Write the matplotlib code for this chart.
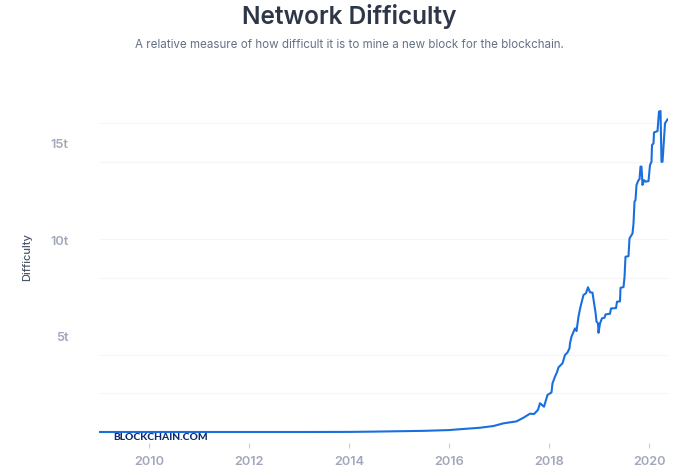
import matplotlib
matplotlib.use("Agg")
import matplotlib.pyplot as plt
from matplotlib.transforms import ScaledTranslation

years = [2009.0, 2010.0, 2011.0, 2012.0, 2013.0, 2014.0, 2014.5, 2015.0, 2015.5, 2016.0, 2016.3,
         2016.62, 2016.89, 2017.09, 2017.35, 2017.49, 2017.62, 2017.70, 2017.78, 2017.82, 2017.90,
         2017.97, 2018.02, 2018.05, 2018.07, 2018.12, 2018.16, 2018.19, 2018.27, 2018.32, 2018.37,
         2018.41, 2018.42, 2018.45, 2018.52, 2018.55, 2018.59, 2018.63, 2018.69, 2018.74, 2018.78,
         2018.82, 2018.87, 2018.90, 2018.93, 2018.95, 2018.98, 2018.99, 2019.02, 2019.06, 2019.11,
         2019.13, 2019.22, 2019.24, 2019.34, 2019.36, 2019.42, 2019.43, 2019.49, 2019.51, 2019.53,
         2019.59, 2019.61, 2019.65, 2019.67, 2019.69, 2019.71, 2019.73, 2019.75, 2019.79, 2019.81,
         2019.83, 2019.85, 2019.87, 2019.90, 2019.93, 2019.99, 2020.02, 2020.05, 2020.06, 2020.09,
         2020.10, 2020.17, 2020.20, 2020.23, 2020.25, 2020.27, 2020.29, 2020.32, 2020.37]
difficulty = [0.0, 0.0, 0.0, 0.0, 0.0, 0.005, 0.02, 0.04, 0.06, 0.1, 0.16,
              0.22, 0.31, 0.45, 0.55, 0.74, 0.95, 0.93, 1.15, 1.49, 1.31,
              1.92, 2.0, 2.05, 2.52, 2.87, 3.1, 3.35, 3.56, 3.99, 4.12,
              4.34, 4.6, 4.94, 5.37, 5.23, 5.98, 6.49, 7.1, 7.19, 7.5,
              7.24, 7.22, 6.7, 6.2, 5.72, 5.63, 5.14, 5.63, 5.89, 5.92,
              6.09, 6.13, 6.4, 6.42, 6.75, 6.77, 7.47, 7.51, 8.01, 9.08,
              9.11, 10.03, 10.2, 10.29, 10.8, 11.93, 12.02, 12.8, 13.05, 13.09,
              13.75, 13.75, 12.8, 13.05, 12.97, 13.0, 13.83, 14.0, 14.87, 14.95,
              15.52, 15.59, 16.6, 16.63, 14.0, 14.0, 14.78, 15.99, 16.2]
x_ticks = [2010, 2012, 2014, 2016, 2018, 2020]
y_ticks = [5, 10, 15]
y_tick_labels = ["5t", "10t", "15t"]
grid_values = [2, 4, 8, 10, 14, 16]

W, H = 680, 471
fig = plt.figure(figsize=(W / 100, H / 100), dpi=100, facecolor="white")
left, right, top, bottom = 99, 668, 90, 443
ax = fig.add_axes([left / W, 1 - bottom / H, (right - left) / W, (bottom - top) / H])
ax.set_xlim(2009, 2009 + (right - left) / 50)
ax.set_ylim((432 - bottom) / 19.3, (432 - top) / 19.3)
for s in ax.spines.values():
    s.set_visible(False)
ax.hlines(grid_values, *ax.get_xlim(), color="#f4f5f7", lw=0.8, zorder=1)
ax.plot(years, difficulty, color="#1a6fdf", lw=1.5, solid_joinstyle="round", zorder=3)

tick_font = dict(family="Inter", fontweight="semibold", fontsize=9.2, color="#a2a8bb")
ax.set_xticks(x_ticks)
ax.set_xticklabels([str(y) for y in x_ticks], **tick_font)
ax.tick_params(axis="x", length=3.6, width=0.8, color="#c9ccd6", pad=5.7)
ax.set_yticks(y_ticks)
ax.set_yticklabels(y_tick_labels, **tick_font)
ax.tick_params(axis="y", length=0, pad=22)
shift = ScaledTranslation(0, -1.2 / 100, fig.dpi_scale_trans)
for lab in ax.get_yticklabels():
    lab.set_transform(lab.get_transform() + shift)

fig.text(27 / W, 1 - 257.5 / H, "Difficulty", rotation=90, ha="center", va="center",
         family="Inter", fontsize=8, fontweight="medium", color="#4a5568")
fig.text(349 / W, 1 - 16.5 / H, "Network Difficulty", ha="center", va="center",
         family="Inter", fontsize=17.6, fontweight="semibold", color="#2d3748")
fig.text(349 / W, 1 - 44.5 / H, "A relative measure of how difficult it is to mine a new block for the blockchain.",
         ha="center", va="center", family="Inter", fontsize=8.35, color="#667085")
fig.text(113 / W, 1 - 437.5 / H, "BLOCKCHAIN.COM", ha="left", va="center",
         family="Lato", fontsize=7.4, fontweight="black", color="#0c2c6b")
fig.savefig("out.png", dpi=100)
